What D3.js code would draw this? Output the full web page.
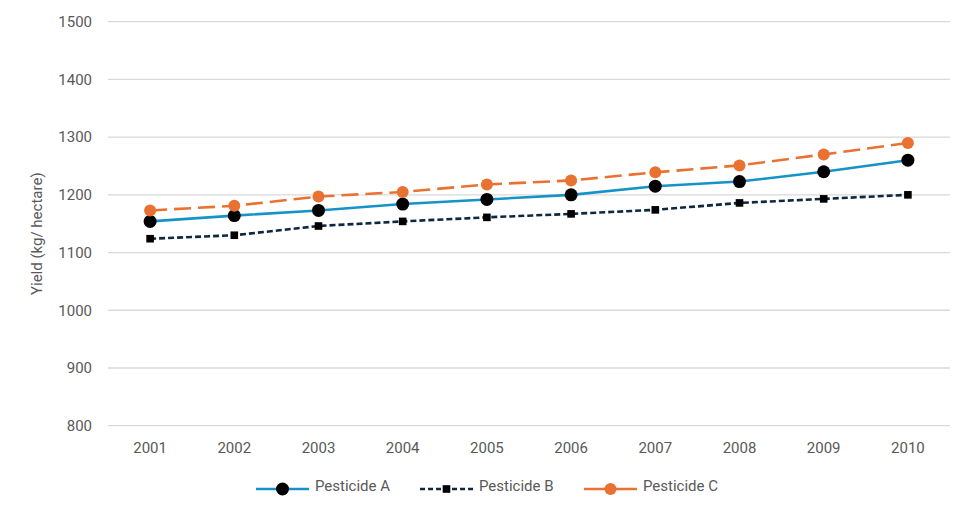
<!DOCTYPE html>
<html>
<head>
<meta charset="utf-8">
<script src="https://cdn.jsdelivr.net/npm/d3@7"></script>
<style>
  body { margin: 0; background: #fff; }
  text { font-family: Roboto, "Liberation Sans", sans-serif; fill: #595959; }
</style>
</head>
<body>
<svg id="chart" width="972" height="518"></svg>
<script>
'use strict';

const years = ['2001','2002','2003','2004','2005','2006','2007','2008','2009','2010'];
const pesticideA = [1154, 1164, 1173, 1184, 1192, 1200, 1215, 1223, 1240, 1260];
const pesticideB = [1124, 1130, 1146, 1154, 1161, 1167, 1174, 1186, 1193, 1200];
const pesticideC = [1173, 1181, 1197, 1205, 1218, 1225, 1239, 1251, 1270, 1290];
const yTicks = [800, 900, 1000, 1100, 1200, 1300, 1400, 1500];

const series = [
  { name: 'Pesticide A', values: pesticideA, color: '#1593c8', dash: null, legendDash: null, marker: 'circle', mfill: '#000' },
  { name: 'Pesticide B', values: pesticideB, color: '#0e2841', dash: '6,3', legendDash: '5,3', marker: 'square', mfill: '#000' },
  { name: 'Pesticide C', values: pesticideC, color: '#e97132', dash: '17,7', legendDash: '22,9', marker: 'circle', mfill: '#e97132' }
];

const plotLeft = 108, plotRight = 950, plotTop = 21.7, plotBottom = 425.7;
const svg = d3.select('#chart');

const x = d3.scaleBand().domain(years).range([plotLeft, plotRight]);
const y = d3.scaleLinear().domain([800, 1500]).range([plotBottom, plotTop]);
const cx = d => x(d) + x.bandwidth() / 2;

// gridlines
svg.append('g').selectAll('line')
  .data(yTicks)
  .enter().append('line')
  .attr('x1', plotLeft).attr('x2', plotRight)
  .attr('y1', d => y(d)).attr('y2', d => y(d))
  .attr('stroke', '#d9d9d9').attr('stroke-width', 1.3);

// y tick labels
svg.append('g').selectAll('text')
  .data(yTicks)
  .enter().append('text')
  .attr('x', 92).attr('y', d => y(d))
  .attr('dy', '0.35em')
  .attr('text-anchor', 'end')
  .attr('font-size', 15)
  .text(d => d);

// x labels
svg.append('g').selectAll('text')
  .data(years)
  .enter().append('text')
  .attr('x', d => cx(d)).attr('y', 447.5)
  .attr('dy', '0.35em')
  .attr('text-anchor', 'middle')
  .attr('font-size', 15)
  .text(d => d);

// y title
svg.append('text')
  .attr('transform', 'translate(37,' + ((plotTop + plotBottom) / 2 + 10) + ') rotate(-90)')
  .attr('text-anchor', 'middle')
  .attr('dy', '0.35em')
  .attr('font-size', 15)
  .text('Yield (kg/ hectare)');

const line = d3.line()
  .x((d, i) => cx(years[i]))
  .y(d => y(d));

function drawMarker(g, s, px, py) {
  if (s.marker === 'circle') {
    g.append('circle').attr('cx', px).attr('cy', py)
      .attr('r', s.mfill === '#000' ? 6.5 : 6)
      .attr('fill', s.mfill);
  } else {
    g.append('rect').attr('x', px - 3.8).attr('y', py - 3.8)
      .attr('width', 7.6).attr('height', 7.6)
      .attr('fill', s.mfill);
  }
}

series.forEach(s => {
  const g = svg.append('g');
  g.append('path')
    .datum(s.values)
    .attr('d', line)
    .attr('fill', 'none')
    .attr('stroke', s.color)
    .attr('stroke-width', 2.6)
    .attr('stroke-dasharray', s.dash);
  s.values.forEach((v, i) => drawMarker(g, s, cx(years[i]), y(v)));
});

// legend
const legendX = [256, 420, 584];
series.forEach((s, i) => {
  const g = svg.append('g');
  const lx = legendX[i], ly = 489;
  g.append('line')
    .attr('x1', lx).attr('x2', lx + 53)
    .attr('y1', ly).attr('y2', ly)
    .attr('stroke', s.color)
    .attr('stroke-width', 2.6)
    .attr('stroke-dasharray', s.legendDash);
  drawMarker(g, s, lx + 26.5, ly);
  g.append('text')
    .attr('x', lx + 59).attr('y', 486)
    .attr('dy', '0.35em')
    .attr('font-size', 15)
    .text(s.name);
});
</script>
</body>
</html>
